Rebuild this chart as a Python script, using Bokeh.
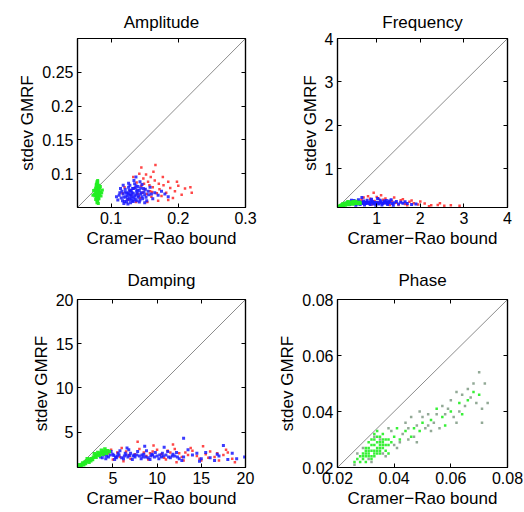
from bokeh.plotting import figure
from bokeh.models import Range1d, FixedTicker, NumeralTickFormatter, LinearAxis
from bokeh.layouts import gridplot
from bokeh.embed import file_html
from bokeh.resources import INLINE

# ---------------- data ----------------
titles = ["Amplitude", "Frequency", "Damping", "Phase"]
x_label = "Cramer\u2212Rao bound"
y_label = "stdev GMRF"

amp_range = [0.05, 0.3]
amp_xticks = [0.1, 0.2, 0.3]
amp_yticks = [0.1, 0.15, 0.2, 0.25]
amp_red = [(0.150,0.077),(0.145,0.082),(0.158,0.074),(0.140,0.070),(0.162,0.080),(0.155,0.088),(0.135,0.079),(0.168,0.071),(0.148,0.093),(0.172,0.077),(0.128,0.074),(0.160,0.066),(0.143,0.064),(0.178,0.083),(0.152,0.099),(0.165,0.090),(0.138,0.087),(0.182,0.072),(0.125,0.062),(0.170,0.060),(0.147,0.072),(0.157,0.083),(0.188,0.079),(0.133,0.095),(0.163,0.103),(0.175,0.067),(0.120,0.080),(0.195,0.074),(0.154,0.058),(0.142,0.100),(0.185,0.088),(0.166,0.113),(0.200,0.082),(0.130,0.068),(0.177,0.095),(0.149,0.085),(0.210,0.078),(0.220,0.072),(0.218,0.080),(0.205,0.069),(0.117,0.071),(0.192,0.064),(0.159,0.095),(0.137,0.058),(0.171,0.085),(0.145,0.109),(0.185,0.061),(0.198,0.088),(0.153,0.070),(0.161,0.073)]
amp_blue = [(0.133,0.071),(0.128,0.068),(0.138,0.074),(0.125,0.072),(0.141,0.067),(0.130,0.063),(0.136,0.079),(0.122,0.066),(0.145,0.072),(0.118,0.070),(0.150,0.069),(0.127,0.076),(0.132,0.060),(0.140,0.081),(0.115,0.064),(0.155,0.074),(0.120,0.059),(0.147,0.063),(0.135,0.085),(0.112,0.068),(0.160,0.070),(0.126,0.080),(0.142,0.058),(0.131,0.066),(0.137,0.069),(0.124,0.062),(0.148,0.078),(0.116,0.074),(0.152,0.065),(0.129,0.057),(0.139,0.076),(0.121,0.077),(0.165,0.072),(0.110,0.061),(0.134,0.090),(0.144,0.070),(0.119,0.056),(0.158,0.080),(0.128,0.083),(0.170,0.068),(0.108,0.066),(0.143,0.088),(0.136,0.062),(0.123,0.071),(0.153,0.060),(0.175,0.074),(0.114,0.078),(0.146,0.084),(0.130,0.075),(0.162,0.063),(0.127,0.064),(0.140,0.065),(0.133,0.078),(0.118,0.083),(0.150,0.057),(0.180,0.070),(0.137,0.095),(0.125,0.055),(0.156,0.069),(0.185,0.066),
            (0.131,0.072),(0.135,0.067),(0.126,0.070),(0.139,0.071),(0.129,0.074),(0.142,0.075),(0.124,0.067),(0.134,0.064),(0.137,0.082),(0.121,0.073),(0.146,0.066),(0.128,0.061),(0.132,0.078),(0.143,0.061),(0.119,0.065),(0.149,0.073),(0.123,0.058),(0.138,0.060),(0.126,0.086),(0.117,0.060),(0.133,0.059),(0.144,0.079),(0.113,0.072),(0.151,0.077),(0.130,0.069)]
amp_green = [(0.080,0.072),(0.078,0.068),(0.082,0.075),(0.079,0.080),(0.081,0.064),(0.077,0.071),(0.083,0.069),(0.080,0.085),(0.076,0.076),(0.084,0.073),(0.079,0.060),(0.081,0.078),(0.078,0.066),(0.082,0.083),(0.080,0.058),(0.075,0.070),(0.085,0.067),(0.079,0.088),(0.081,0.074),(0.077,0.062),(0.083,0.079),(0.080,0.065),(0.078,0.082),(0.082,0.070),(0.074,0.075),(0.086,0.072),(0.080,0.090),(0.079,0.077),(0.081,0.056),(0.076,0.067),(0.084,0.081),(0.080,0.069),(0.078,0.074),(0.082,0.063),(0.079,0.086),(0.081,0.071),(0.073,0.068),(0.087,0.076),(0.080,0.061),(0.078,0.078),(0.082,0.073),(0.080,0.066),
             (0.079,0.070),(0.081,0.067),(0.080,0.077),(0.078,0.073),(0.082,0.068),(0.079,0.064),(0.081,0.082),(0.077,0.079),(0.083,0.071),(0.080,0.062),(0.078,0.084),(0.082,0.077),(0.079,0.057),(0.080,0.088)]

frq_range = [0.1, 4.0]
frq_ticks = [1, 2, 3, 4]
frq_red = [(0.55,0.24),(0.65,0.28),(0.75,0.21),(0.85,0.30),(0.95,0.25),(1.05,0.22),(1.15,0.28),(1.25,0.19),(1.35,0.25),(1.45,0.21),(1.55,0.27),(1.65,0.18),(1.75,0.23),(1.85,0.20),(1.95,0.17),(2.10,0.19),(2.25,0.15),(2.40,0.16),(2.55,0.14),(2.70,0.15),(2.90,0.14),(0.93,0.44),(0.80,0.36),(1.00,0.34),(1.10,0.38),(1.20,0.31),(0.70,0.33),(1.40,0.33),(1.60,0.29),(0.60,0.19),(0.88,0.17),(1.30,0.16),(1.70,0.15),(2.00,0.24),(2.20,0.13),(1.05,0.30),(0.98,0.19),(1.50,0.16),(1.80,0.26),(2.45,0.20)]
frq_blue = [(0.30,0.20),(0.35,0.22),(0.40,0.19),(0.45,0.24),(0.50,0.21),(0.55,0.18),(0.60,0.23),(0.65,0.20),(0.70,0.25),(0.75,0.19),(0.80,0.22),(0.85,0.17),(0.90,0.24),(0.95,0.20),(1.00,0.22),(1.05,0.18),(1.10,0.23),(1.15,0.20),(1.20,0.21),(1.25,0.17),(1.30,0.22),(1.35,0.19),(1.40,0.21),(1.50,0.18),(1.60,0.20),(1.70,0.19),(1.80,0.17),(1.90,0.18),(0.42,0.27),(0.58,0.28),(0.72,0.16),(0.88,0.29),(0.98,0.15),(1.08,0.27),(1.22,0.26),(1.45,0.24),(0.62,0.17),(0.78,0.27),(1.02,0.31),(1.28,0.25),(0.52,0.15),(0.68,0.22),(0.82,0.21),(0.92,0.18),(1.12,0.16),(1.18,0.25),(1.38,0.15),(1.55,0.22),(0.38,0.17),(0.48,0.26),(0.66,0.33),(1.65,0.23),(0.86,0.25),(0.76,0.22),(1.33,0.28),
            (0.33,0.21),(0.37,0.19),(0.43,0.21),(0.47,0.20),(0.53,0.22),(0.57,0.21),(0.63,0.21),(0.67,0.19),(0.73,0.21),(0.77,0.20),(0.83,0.19),(0.87,0.21),(0.93,0.22),(0.97,0.21),(1.03,0.20),(1.07,0.21),(1.13,0.19),(1.17,0.22),(1.23,0.20),(1.27,0.21)]
frq_green = [(0.13,0.11),(0.15,0.13),(0.17,0.14),(0.19,0.15),(0.21,0.16),(0.18,0.12),(0.22,0.18),(0.25,0.17),(0.27,0.19),(0.24,0.15),(0.30,0.20),(0.32,0.18),(0.35,0.21),(0.38,0.19),(0.40,0.22),(0.42,0.20),(0.45,0.21),(0.48,0.19),(0.50,0.22),(0.53,0.20),(0.56,0.21),(0.58,0.19),(0.60,0.22),(0.28,0.16),(0.34,0.23),(0.46,0.23),(0.16,0.10),(0.20,0.13),(0.36,0.17),(0.52,0.24),(0.62,0.20),(0.44,0.18)]

dmp_range = [1.0, 20.0]
dmp_ticks = [5, 10, 15, 20]
dmp_red = [(4.5,2.6),(5.5,2.7),(6.5,2.8),(7.5,2.5),(8.5,2.7),(9.5,2.8),(10.5,2.5),(11.5,2.7),(12.5,2.6),(13.5,2.4),(14.5,2.3),(15.5,2.5),(16.5,2.2),(17.5,2.4),(18.5,2.0),(5.0,1.9),(6.0,3.2),(7.0,2.0),(8.0,3.1),(9.0,1.9),(10.0,3.0),(11.0,1.9),(12.0,3.1),(13.0,1.8),(14.0,2.9),(15.0,1.8),(16.0,2.8),(17.0,1.8),(18.0,2.7),(7.8,3.9),(11.8,3.6),(15.2,3.4),(9.6,3.5),(13.8,3.2),(4.8,3.0),(6.8,2.4),(8.8,2.3),(10.8,2.1),(12.8,2.2),(14.8,2.0),(16.8,2.6),(18.8,1.6),(5.8,2.2),(11.2,2.9),(13.2,2.7),(17.8,3.0),(9.2,2.6),(15.8,2.1),(6.2,1.7),(12.2,1.6)]
dmp_blue = [(4.0,2.4),(4.5,2.2),(5.0,2.5),(5.5,2.3),(6.0,2.1),(6.5,2.4),(7.0,2.6),(7.5,2.2),(8.0,2.3),(8.5,2.5),(9.0,2.1),(9.5,2.4),(10.0,2.3),(10.5,2.2),(11.0,2.4),(11.5,2.1),(12.0,2.3),(12.5,2.0),(13.0,2.2),(14.0,2.4),(15.0,2.0),(16.0,2.1),(17.0,2.3),(18.0,1.9),(19.0,2.0),(19.9,2.2),(4.8,2.8),(5.2,1.9),(5.8,2.9),(6.2,2.0),(6.8,3.0),(7.2,1.9),(7.8,2.8),(8.2,2.0),(8.8,2.9),(9.2,1.9),(9.8,2.7),(10.2,2.0),(11.2,2.8),(12.2,2.7),(13.5,3.0),(13.0,4.3),(10.8,3.3),(8.6,3.4),(6.6,3.2),(14.5,2.6),(15.5,2.7),(16.5,1.8),(17.5,3.5),(18.5,2.6),(3.6,2.2),(4.2,2.0),(5.6,2.6),(7.4,2.4),(9.4,2.5),(11.8,2.5),(12.8,1.8),(14.8,1.7),(16.8,2.5),(5.4,2.1),(6.4,2.6),(8.4,2.2),(10.6,2.6),
            (4.3,2.3),(4.7,2.4),(5.3,2.2),(5.7,2.4),(6.3,2.3),(6.7,2.2),(7.3,2.3),(7.7,2.4),(8.3,2.4),(8.7,2.2),(9.3,2.3),(9.7,2.2),(10.3,2.4),(10.7,2.3),(11.3,2.2),(11.7,2.3),(12.3,2.2),(3.8,2.1),(5.1,2.35),(6.9,2.35)]
dmp_green = [(1.1,1.05),(1.3,1.2),(1.5,1.35),(1.4,1.1),(1.6,1.5),(1.8,1.6),(1.7,1.3),(2.0,1.7),(2.2,1.8),(1.9,1.45),(2.4,1.95),(2.6,2.0),(2.3,1.6),(2.8,2.15),(3.0,2.3),(2.7,1.9),(3.2,2.4),(3.4,2.5),(3.1,2.15),(3.6,2.6),(3.8,2.7),(3.5,2.35),(4.0,2.8),(4.2,2.75),(3.9,2.5),(4.4,2.9),(4.6,2.8),(3.3,2.7),(2.9,2.55),(3.7,2.95),(4.1,3.1),(1.2,1.3),(2.1,2.0),(2.5,1.75),(4.3,2.6)]

phs_range = [0.02, 0.08]
phs_ticks = [0.02, 0.04, 0.06, 0.08]
phs_gray = [(0.033,0.031),(0.037,0.024),(0.029,0.027),(0.040,0.028),(0.043,0.032),(0.045,0.030),(0.048,0.035),(0.051,0.034),(0.052,0.039),(0.054,0.036),(0.056,0.034),(0.059,0.041),(0.061,0.038),(0.062,0.036),(0.065,0.042),(0.067,0.045),(0.069,0.043),(0.071,0.041),(0.072,0.050),(0.073,0.043),(0.066,0.048),(0.064,0.046),(0.060,0.044),(0.058,0.039),(0.050,0.038),(0.047,0.031),(0.044,0.036),(0.042,0.029),(0.039,0.033),(0.036,0.025),(0.031,0.023),(0.027,0.025),(0.038,0.034),(0.053,0.033),(0.057,0.042),(0.063,0.040),(0.068,0.050),(0.070,0.054),(0.046,0.038),(0.041,0.027),(0.049,0.040),(0.055,0.039),(0.035,0.030),(0.032,0.022),(0.062,0.047),(0.071,0.036),(0.045,0.034),(0.052,0.035),(0.026,0.021),(0.048,0.029)]
phs_green = [(0.034,0.027),(0.032,0.026),(0.036,0.029),(0.030,0.024),(0.033,0.028),(0.035,0.026),(0.031,0.025),(0.037,0.030),(0.029,0.023),(0.034,0.029),(0.032,0.024),(0.036,0.027),(0.030,0.026),(0.038,0.028),(0.033,0.025),(0.035,0.031),(0.028,0.022),(0.031,0.027),(0.037,0.026),(0.034,0.025),(0.032,0.028),(0.029,0.025),(0.036,0.032),(0.039,0.029),(0.027,0.023),(0.033,0.030),(0.035,0.028),(0.030,0.022),(0.040,0.031),(0.031,0.029),(0.038,0.025),(0.026,0.022),(0.034,0.033),(0.042,0.030),(0.044,0.033),(0.047,0.034),(0.050,0.036),(0.053,0.037),(0.046,0.031),(0.041,0.034),(0.057,0.038),(0.060,0.040),(0.063,0.043),(0.066,0.044),(0.068,0.047),(0.055,0.041),(0.049,0.033),(0.058,0.035),(0.064,0.039),(0.070,0.046),
             (0.033,0.026),(0.031,0.026),(0.035,0.027),(0.034,0.031),(0.032,0.030),(0.030,0.025),(0.036,0.028),(0.033,0.024),(0.029,0.024),(0.035,0.029),(0.037,0.028),(0.031,0.024),(0.034,0.026),(0.032,0.023),(0.036,0.030),(0.028,0.024),(0.038,0.030),(0.030,0.027),(0.033,0.032),(0.035,0.025)]

FONT = "Liberation Sans"


def style_axis(ax, ticks, show_labels):
    ax.ticker = FixedTicker(ticks=ticks)
    ax.formatter = NumeralTickFormatter(format="0.[00]")
    ax.major_tick_in = 4
    ax.major_tick_out = 0
    ax.minor_tick_line_color = None
    ax.axis_line_color = "black"
    ax.axis_line_width = 1.2
    ax.major_tick_line_color = "black"
    ax.major_label_text_font = FONT
    if show_labels:
        ax.major_label_text_color = "black"
        ax.major_label_text_font_size = "16px"
        ax.major_label_standoff = 4
    else:
        ax.major_label_text_color = None
        ax.major_label_text_font_size = "1px"
        ax.major_label_standoff = 0


def panel(title, rng, xticks, yticks, series, borders, title_gap):
    lo, hi = rng
    left, right, top, bottom = borders
    p = figure(width=262, height=256, x_range=Range1d(lo, hi), y_range=Range1d(lo, hi),
               output_backend="svg", toolbar_location=None,
               min_border_left=left, min_border_right=right,
               min_border_top=top, min_border_bottom=bottom)
    p.grid.visible = False
    p.outline_line_color = "black"
    p.outline_line_width = 1.2
    p.background_fill_color = "white"
    p.border_fill_color = "white"

    p.line(rng, rng, line_color="#8c8c8c", line_width=1)
    for pts, color, alpha, size in series:
        xs = [a for a, b in pts]
        ys = [b for a, b in pts]
        p.scatter(xs, ys, marker="square", size=size, fill_color=color,
                  line_color=None, fill_alpha=alpha)

    style_axis(p.xaxis[0], xticks, True)
    style_axis(p.yaxis[0], yticks, True)
    p.xaxis.axis_label = x_label
    p.yaxis.axis_label = y_label
    top_ax = LinearAxis()
    right_ax = LinearAxis()
    style_axis(top_ax, xticks, False)
    style_axis(right_ax, yticks, False)
    # the panel title is drawn as the label of the top axis
    top_ax.axis_label = title
    for ax in (p.xaxis[0], p.yaxis[0], top_ax):
        ax.axis_label_text_font = FONT
        ax.axis_label_text_font_size = "17px"
        ax.axis_label_text_font_style = "normal"
        ax.axis_label_text_color = "black"
        ax.axis_label_standoff = 2
    top_ax.axis_label_standoff = title_gap
    p.add_layout(top_ax, "above")
    p.add_layout(right_ax, "right")
    return p


RED, BLUE, GREEN = "#ff1a1a", "#1a1aff", "#22ee22"

p1 = panel(titles[0], amp_range, amp_xticks, amp_yticks,
           [(amp_red, RED, 0.8, 2.5), (amp_blue, BLUE, 0.85, 3), (amp_green, GREEN, 0.95, 3)],
           (77, 17, 38, 49), 7)
p2 = panel(titles[1], frq_range, frq_ticks, frq_ticks,
           [(frq_red, RED, 0.8, 2.5), (frq_blue, BLUE, 0.9, 3), (frq_green, GREEN, 0.95, 3.5)],
           (75, 17, 38, 49), 7)
p3 = panel(titles[2], dmp_range, dmp_ticks, dmp_ticks,
           [(dmp_red, RED, 0.8, 2.5), (dmp_blue, BLUE, 0.85, 3), (dmp_green, GREEN, 0.95, 3.5)],
           (77, 17, 43, 45), 10)
p4 = panel(titles[3], phs_range, phs_ticks, phs_ticks,
           [(phs_gray, "#7f9a84", 0.85, 2.5), (phs_green, GREEN, 0.9, 2.5)],
           (75, 17, 43, 45), 10)

grid = gridplot([[p1, p2], [p3, p4]], toolbar_location=None)
open("out.html", "w").write(file_html(grid, INLINE))
